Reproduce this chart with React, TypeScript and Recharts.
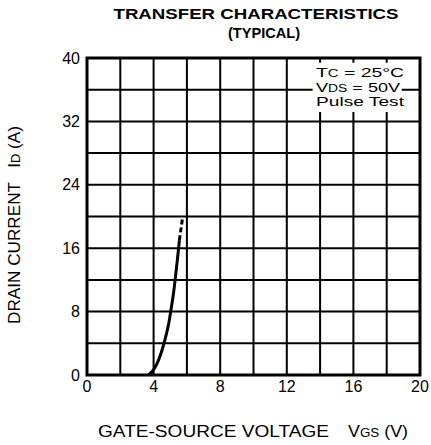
import React from "react";
import {
  ComposedChart,
  Line,
  XAxis,
  YAxis,
  CartesianGrid,
  ReferenceArea,
  Customized,
} from "recharts";

/* ── Data ─────────────────────────────────────────────── */
const xTicks = [0, 2, 4, 6, 8, 10, 12, 14, 16, 18, 20];
const yTicks = [0, 4, 8, 12, 16, 20, 24, 28, 32, 36, 40];

// measured part of the curve (solid)
const solidVgs = [3.7, 3.9, 4.1, 4.3, 4.5, 4.7, 4.9, 5.05, 5.2, 5.32, 5.43, 5.55];
const solidId = [0, 0.4, 1.0, 1.9, 3.1, 4.6, 6.4, 8.3, 10.4, 12.5, 14.6, 17];

// extrapolated part (dashed)
const dashVgs = [5.55, 5.65, 5.75];
const dashId = [17, 18.5, 20];

const solidData = solidVgs.map((v, i) => ({ vgs: v, id: solidId[i] }));
const dashData = dashVgs.map((v, i) => ({ vgs: v, id: dashId[i] }));

const FONT = "'Liberation Sans', Arial, Helvetica, sans-serif";

/* ── Titles ───────────────────────────────────────────── */
function Titles() {
  return (
    <g fontFamily={FONT} fill="#000">
      <text x={256} y={19} fontSize={15} fontWeight="bold" textAnchor="middle" textLength={285} lengthAdjust="spacingAndGlyphs">
        TRANSFER CHARACTERISTICS
      </text>
      <text x={264} y={38} fontSize={15} fontWeight="bold" textAnchor="middle" textLength={72} lengthAdjust="spacingAndGlyphs">
        (TYPICAL)
      </text>

      <text x={98} y={437} fontSize={16} textLength={231} lengthAdjust="spacingAndGlyphs">
        GATE-SOURCE VOLTAGE
      </text>
      <text x={348} y={437} fontSize={16} textLength={60} lengthAdjust="spacingAndGlyphs">
        V<tspan fontSize={12}>GS</tspan> (V)
      </text>
      <text
        x={0}
        y={0}
        fontSize={16}
        textAnchor="middle"
        textLength={198}
        lengthAdjust="spacingAndGlyphs"
        transform="translate(20, 225) rotate(-90)"
      >
        DRAIN CURRENT{"\u00a0\u00a0\u00a0"}I<tspan fontSize={12}>D</tspan> (A)
      </text>
    </g>
  );
}

/* ── Test conditions (drawn as a label so it sits above the grid) ── */
function Conditions() {
  return (
    <g fontFamily={FONT} fill="#000" fontSize={13}>
      <text x={316} y={77} textLength={88} lengthAdjust="spacingAndGlyphs">
        T<tspan fontSize={10}>C</tspan> = 25°C
      </text>
      <text x={316} y={92} textLength={84} lengthAdjust="spacingAndGlyphs">
        V<tspan fontSize={10}>DS</tspan> = 50V
      </text>
      <text x={316} y={106} textLength={88} lengthAdjust="spacingAndGlyphs">
        Pulse Test
      </text>
    </g>
  );
}

/* ── Chart ────────────────────────────────────────────── */
export default function App() {
  return (
    <div style={{ position: "absolute", left: 0, top: 0, background: "#fff" }}>
      <ComposedChart
        width={431}
        height={445}
        margin={{ top: 58, right: 11, left: 57, bottom: 40 }}
      >
        <CartesianGrid stroke="#000" strokeWidth={2} />
        <XAxis
          type="number"
          dataKey="vgs"
          domain={[0, 20]}
          ticks={xTicks}
          allowDataOverflow
          interval={0}
          axisLine={false}
          tickLine={false}
          tickSize={0}
          tickMargin={6}
          height={30}
          tickFormatter={(v: number) => (v % 4 === 0 ? String(v) : "")}
          tick={{ fontSize: 16, fill: "#000", fontFamily: FONT }}
        />
        <YAxis
          type="number"
          dataKey="id"
          domain={[0, 40]}
          ticks={yTicks}
          allowDataOverflow
          interval={0}
          axisLine={false}
          tickLine={false}
          tickSize={0}
          tickMargin={7}
          width={30}
          tickFormatter={(v: number) => (v % 8 === 0 ? String(v) : "")}
          tick={{ fontSize: 16, fill: "#000", fontFamily: FONT }}
        />

        {/* white backing behind the condition text */}
        <ReferenceArea x1={13.55} x2={19.25} y1={37.1} y2={39.4} fill="#fff" fillOpacity={1} stroke="none" />
        <ReferenceArea x1={13.55} x2={18.9} y1={35.4} y2={37.2} fill="#fff" fillOpacity={1} stroke="none" />
        <ReferenceArea x1={13.55} x2={19.25} y1={33.2} y2={35.5} fill="#fff" fillOpacity={1} stroke="none" />

        {/* plot frame, carries the condition text */}
        <ReferenceArea
          x1={0}
          x2={20}
          y1={0}
          y2={40}
          fill="none"
          stroke="#000"
          strokeWidth={3}
          label={{ content: () => <Conditions /> }}
        />

        <Line
          data={solidData}
          dataKey="id"
          type="monotone"
          stroke="#000"
          strokeWidth={3}
          dot={false}
          isAnimationActive={false}
        />
        <Line
          data={dashData}
          dataKey="id"
          type="monotone"
          stroke="#000"
          strokeWidth={3}
          strokeDasharray="5 3"
          dot={false}
          isAnimationActive={false}
        />
        <Customized component={Titles} />
      </ComposedChart>
    </div>
  );
}
